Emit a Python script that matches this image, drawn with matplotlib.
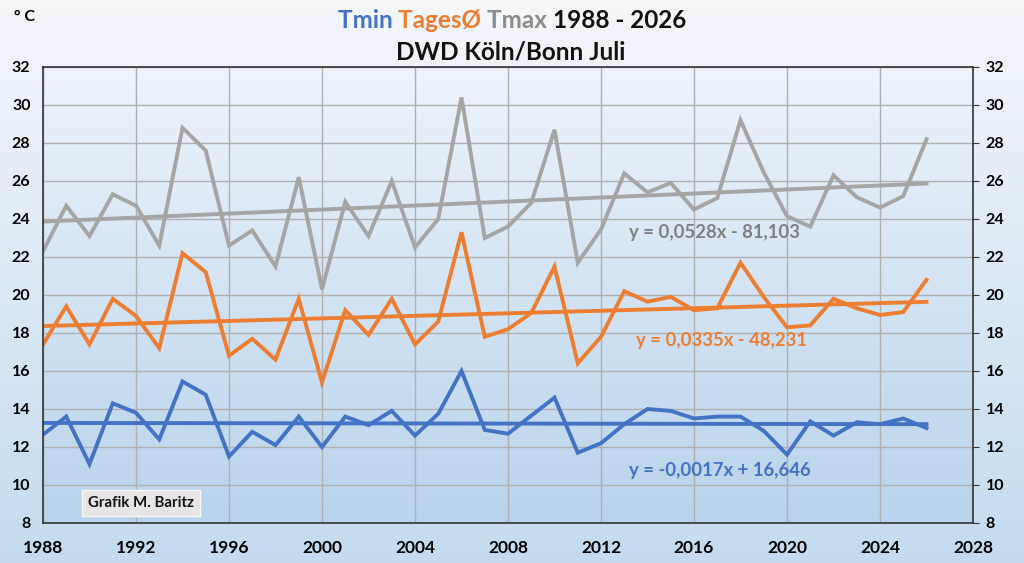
import numpy as np
import matplotlib
matplotlib.use("Agg")
import matplotlib.pyplot as plt
from matplotlib.colors import LinearSegmentedColormap

plt.rcParams['font.family'] = ['Lato', 'DejaVu Sans']

years = list(range(1988, 2027))
tmax = [22.3, 24.7, 23.1, 25.3, 24.7, 22.6, 28.8, 27.6, 22.6, 23.4,
        21.5, 26.2, 20.3, 24.9, 23.1, 26.0, 22.5, 24.0, 30.4, 23.0,
        23.6, 24.85, 28.7, 21.7, 23.45, 26.4, 25.4, 25.9, 24.5, 25.1,
        29.2, 26.45, 24.15, 23.6, 26.3, 25.15, 24.6, 25.2, 28.2]
tmean = [17.4, 19.4, 17.4, 19.8, 18.9, 17.2, 22.2, 21.2, 16.8, 17.7,
         16.6, 19.8, 15.4, 19.2, 17.9, 19.8, 17.4, 18.6, 23.3, 17.8,
         18.2, 19.05, 21.5, 16.4, 17.8, 20.2, 19.65, 19.9, 19.2, 19.3,
         21.7, 19.9, 18.3, 18.4, 19.8, 19.3, 18.95, 19.1, 20.8]
tmin = [12.65, 13.6, 11.1, 14.3, 13.8, 12.4, 15.45, 14.75, 11.5, 12.8,
        12.1, 13.6, 12.0, 13.6, 13.15, 13.9, 12.6, 13.75, 16.0, 12.9,
        12.7, 13.65, 14.6, 11.7, 12.2, 13.2, 14.0, 13.9, 13.5, 13.6,
        13.6, 12.85, 11.6, 13.35, 12.6, 13.3, 13.2, 13.5, 13.0]

# trend coefficients as printed in the chart (slope, intercept)
trend_tmax = (0.0528, -81.103)
trend_tmean = (0.0335, -48.231)
trend_tmin = (-0.0017, 16.646)
eq_tmax = "y = 0,0528x - 81,103"
eq_tmean = "y = 0,0335x - 48,231"
eq_tmin = "y = -0,0017x + 16,646"

c_min = '#4472C4'
c_mean = '#ED7D31'
c_max = '#A5A5A5'

fig = plt.figure(figsize=(10.24, 5.63), dpi=100)

# figure background gradient
bg = fig.add_axes([0, 0, 1, 1], zorder=-10)
cmap_bg = LinearSegmentedColormap.from_list('bg', ['#F4F7FC', '#C4DBEF'])
bg.imshow(np.linspace(0, 1, 256).reshape(-1, 1), aspect='auto', cmap=cmap_bg,
          extent=[0, 1, 0, 1], origin='upper')
bg.axis('off')

ax = fig.add_axes([43/1024, 40/563, 930/1024, 456/563])
cmap_ax = LinearSegmentedColormap.from_list('ax', ['#EEF4FB', '#B8D3EB'])
ax.imshow(np.linspace(0, 1, 256).reshape(-1, 1), aspect='auto', cmap=cmap_ax,
          extent=[1988, 2028, 8, 32], origin='upper', zorder=0)
ax.set_xlim(1988, 2028)
ax.set_ylim(8, 32)

ax.set_xticks(range(1988, 2029, 4))
ax.set_yticks(range(8, 33, 2))
ax.grid(True, color='#B0B0B0', linewidth=1.0, zorder=1)
ax.set_axisbelow(False)
for s in ax.spines.values():
    s.set_color('#333333')
    s.set_linewidth(1.2)
    s.set_zorder(5)

ax.tick_params(axis='x', length=0, pad=12, labelsize=12.5)
ax.tick_params(axis='y', left=False, right=True, labelleft=True, labelright=True,
               length=4, direction='out', pad=5, labelsize=11.5, color='#333333')
for t in ax.xaxis.get_major_ticks():
    t.label1.set_fontweight('bold')
for t in ax.yaxis.get_major_ticks():
    t.label1.set_fontweight('bold')
    t.label2.set_fontweight('bold')

yrs = np.array(years)
lw = 2.8
ax.plot(yrs, tmax, color=c_max, lw=lw, zorder=3, solid_joinstyle='miter')
ax.plot(yrs, tmean, color=c_mean, lw=lw, zorder=3, solid_joinstyle='miter')
ax.plot(yrs, tmin, color=c_min, lw=lw, zorder=3, solid_joinstyle='miter')

xe = np.array([years[0], years[-1]])
for (m, b), c in [(trend_tmax, c_max), (trend_tmean, c_mean), (trend_tmin, c_min)]:
    ax.plot(xe, m * xe + b, color=c, lw=lw, zorder=3)

ax.text(2013.2, 23.3, eq_tmax, color='#808080', fontsize=13.3, fontweight='bold',
        ha='left', va='center', zorder=6)
ax.text(2013.5, 17.6, eq_tmean, color=c_mean, fontsize=13.3, fontweight='bold',
        ha='left', va='center', zorder=6)
ax.text(2013.2, 10.75, eq_tmin, color=c_min, fontsize=13.3, fontweight='bold',
        ha='left', va='center', zorder=6)

ax.text(1992.2, 9.05, "Grafik M. Baritz", color='#111111', fontsize=10.8, fontweight='bold',
        ha='center', va='center', zorder=6,
        bbox=dict(boxstyle='square,pad=0.4', facecolor='#E6E6E6', edgecolor='#F8F8F8', lw=1))

# titles
fig.text(14/1024, 1 - 17/563, "° C", fontsize=11.5, fontweight='bold', ha='left', va='center')

parts = [("Tmin ", c_min), ("TagesØ ", c_mean), ("Tmax ", '#8C8C8C'), ("1988 - 2026", '#111111')]
r = fig.canvas.get_renderer()
texts = []
widths = []
for s, c in parts:
    t = fig.text(0, 1 - 20/563, s, fontsize=17.5, fontweight='bold', color=c, ha='left', va='center')
    bb = t.get_window_extent(renderer=r)
    texts.append(t)
    widths.append(bb.width)
total = sum(widths)
x0 = 512 - total / 2
for t, w in zip(texts, widths):
    t.set_x(x0 / 1024)
    x0 += w
fig.text(511/1024, 1 - 52/563, "DWD Köln/Bonn Juli", fontsize=17.5, fontweight='bold',
         color='#111111', ha='center', va='center')

fig.savefig('out.png', dpi=100)
